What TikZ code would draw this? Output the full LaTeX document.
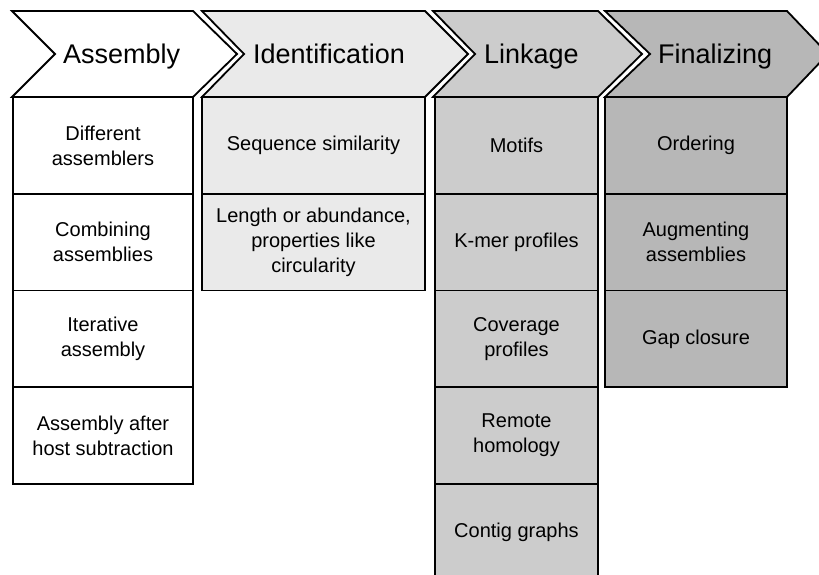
\documentclass[tikz,border=0pt]{standalone}
\usepackage{fontspec}
\setmainfont{Liberation Sans}
\usetikzlibrary{positioning}

\definecolor{idgray}{RGB}{234,234,234}
\definecolor{linkgray}{RGB}{204,204,204}
\definecolor{fingray}{RGB}{183,183,183}

\tikzset{
    stage/.style = {draw = black, line width = 1.8pt, line join = miter},
    head/.style = {anchor = base west, inner sep = 0pt, font = \fontsize{27}{32}\selectfont},
    cell/.style = {shape = rectangle, draw = black, line width = 1.8pt, outer sep = 0pt,
        align = center, minimum height = 96.75pt, inner sep = 2pt,
        font = \fontsize{20}{25}\selectfont},
}

\begin{document}
\begin{tikzpicture}[x = 1pt, y = -1pt]
            \useasboundingbox (0, 0) rectangle (819, 575);
            \clip (0, 0) rectangle (819, 575);

            % the four stages
            \draw [stage, fill = white] (12, 11) -- (193, 11) -- (237, 54) -- (193, 97) -- (12, 97) -- (55, 54) -- cycle;
            \draw [stage, fill = idgray] (202, 11) -- (425, 11) -- (468, 54) -- (425, 97) -- (202, 97) -- (244, 54) -- cycle;
            \draw [stage, fill = linkgray] (433, 11) -- (598, 11) -- (642, 54) -- (598, 97) -- (433, 97) -- (475, 54) -- cycle;
            \draw [stage, fill = fingray] (605, 11) -- (787, 11) -- (828, 54) -- (787, 97) -- (605, 97) -- (650, 54) -- cycle;

            \node [head] (assembly) at (63, 64) {Assembly};
            \node [head] (ident) at (253, 64) {Identification};
            \node [head] (linkage) at (484, 64) {Linkage};
            \node [head] (final) at (658, 64) {Finalizing};

            % assembly
            \node [cell, fill = white, minimum width = 180pt, anchor = north west] (diff) at (13, 97) {Different\\assemblers};
            \node [cell, fill = white, minimum width = 180pt, below = 0pt of diff] (combine) {Combining\\assemblies};
            \node [cell, fill = white, minimum width = 180pt, below = 0pt of combine] (iter) {Iterative\\assembly};
            \node [cell, fill = white, minimum width = 180pt, below = 0pt of iter] (host) {Assembly after\\host subtraction};

            % identification
            \node [cell, fill = idgray, minimum width = 223pt, anchor = north west] (seqsim) at (202, 97) {Sequence similarity};
            \node [cell, fill = idgray, minimum width = 223pt, below = 0pt of seqsim] (length) {Length or abundance,\\properties like\\circularity};

            % linkage
            \node [cell, fill = linkgray, minimum width = 163pt, anchor = north west] (motifs) at (435, 97) {Motifs};
            \node [cell, fill = linkgray, minimum width = 163pt, below = 0pt of motifs] (kmer) {K-mer profiles};
            \node [cell, fill = linkgray, minimum width = 163pt, below = 0pt of kmer] (cover) {Coverage\\profiles};
            \node [cell, fill = linkgray, minimum width = 163pt, below = 0pt of cover] (remote) {Remote\\homology};
            \node [cell, fill = linkgray, minimum width = 163pt, below = 0pt of remote] (contig) {Contig graphs};

            % finalizing
            \node [cell, fill = fingray, minimum width = 182pt, anchor = north west] (order) at (605, 97) {Ordering};
            \node [cell, fill = fingray, minimum width = 182pt, below = 0pt of order] (augment) {Augmenting\\assemblies};
            \node [cell, fill = fingray, minimum width = 182pt, below = 0pt of augment] (gap) {Gap closure};
        \end{tikzpicture}
\end{document}
